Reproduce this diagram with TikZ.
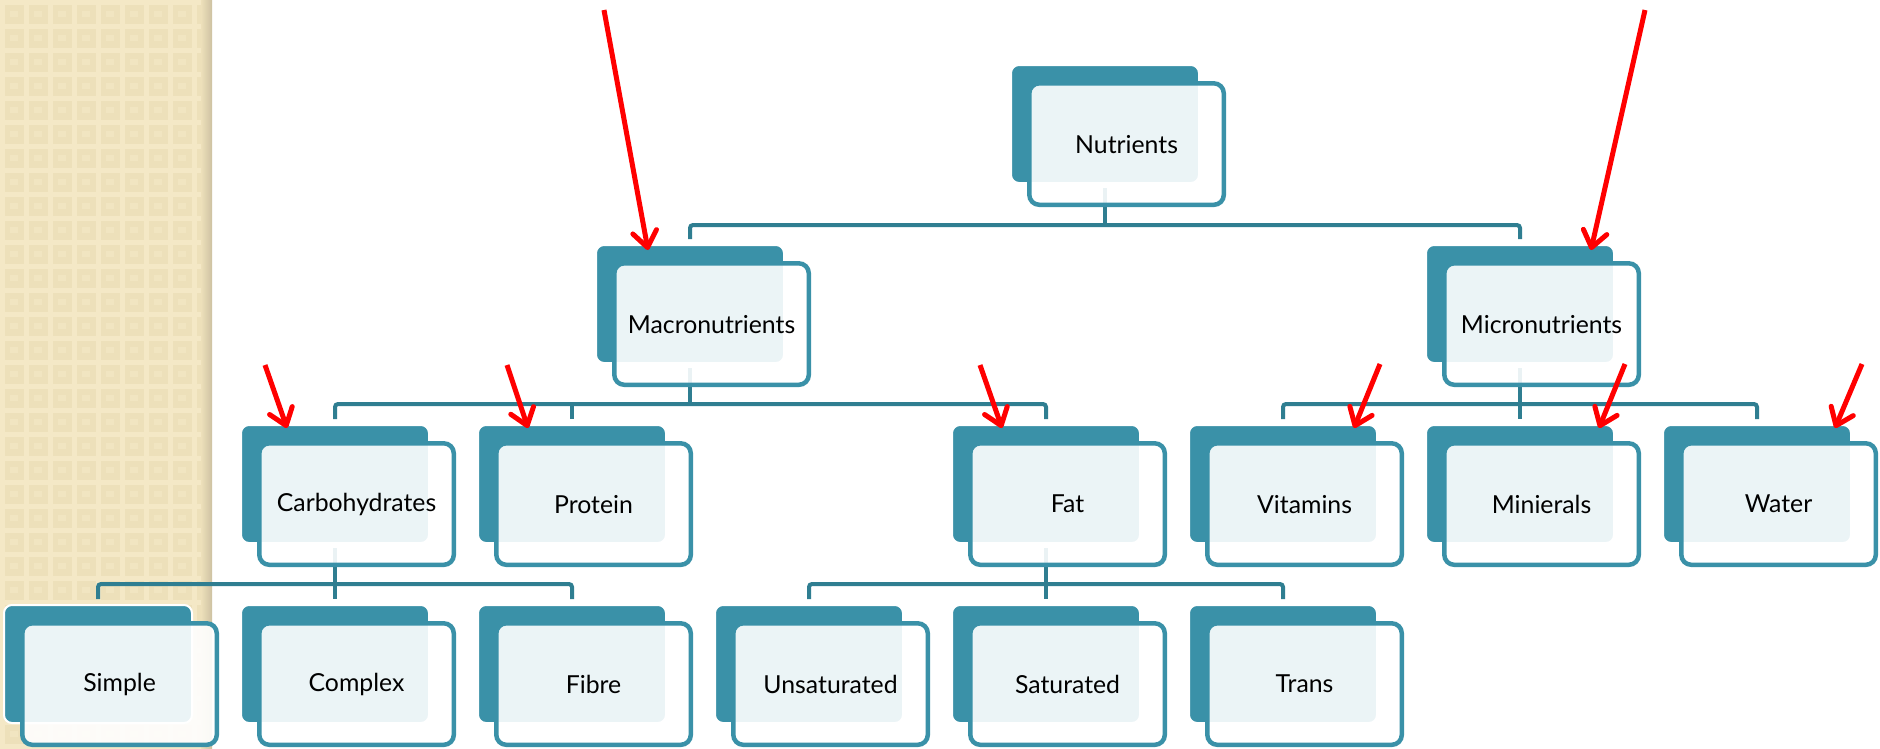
\documentclass[tikz,border=0pt]{standalone}
\usepackage{fontspec}
\setmainfont{Lato}
\usetikzlibrary{calc,arrows.meta}

\definecolor{smTeal}{RGB}{58,145,168}
\definecolor{smLine}{RGB}{47,126,145}
\definecolor{smBeige}{RGB}{237,224,186}
\definecolor{smBeigeLight}{RGB}{244,232,198}
\definecolor{smEdge}{RGB}{205,193,162}

\pgfdeclarelayer{paper}
\pgfdeclarelayer{lines}
\pgfsetlayers{paper,lines,main}

% one hierarchy box: solid back card plus translucent framed card with the label
\newcommand\smartbox[4]{%
  \node[backbox] (#1B) at (#2,#3) {};
  \node[frontbox] (#1) at ($(#2,#3)+(18.3,18.3)$) {#4};
}

\begin{document}
\begin{tikzpicture}[x=1pt,y=-1pt,
  backbox/.style={shape=rectangle, fill=smTeal, draw=white, line width=2pt,
    rounded corners=8pt, minimum width=188pt, minimum height=118pt,
    inner sep=0pt, outer sep=0pt, anchor=north west},
  frontbox/.style={shape=rectangle, fill=white, fill opacity=0.9, text opacity=1,
    draw=smTeal, line width=4.5pt, rounded corners=10pt,
    minimum width=194.5pt, minimum height=121.5pt, inner sep=0pt, outer sep=0pt,
    anchor=north west, font=\fontsize{24.8}{29}\selectfont},
  conn/.style={draw=smLine, line width=4pt, rounded corners=3pt},
  pointer/.style={draw=red, line width=5pt,
    -{Straight Barb[length=16pt,width=24pt,round]}},
]
\useasboundingbox (0,0) rectangle (1880,748);

% textured side strip
\begin{pgfonlayer}{paper}
  \fill[white] (0,0) rectangle (1880,748);
  \fill[smBeige] (0,0) rectangle (212,748);
  \foreach \i in {0,...,8} \fill[smBeigeLight] (\i*24,0) rectangle ++(5,748);
  \foreach \j in {0,...,31} \fill[smBeigeLight] (0,\j*24) rectangle ++(212,5);
  \foreach \i in {0,...,8} \foreach \j in {0,...,31}
    \fill[smBeigeLight!60!smBeige] (\i*24+10,\j*24+11) rectangle ++(8,6);
  \shade[left color=smBeige, right color=smEdge] (201,0) rectangle (212,748);
\end{pgfonlayer}

% boxes
\smartbox{nut}{1011}{65}{Nutrients}
\smartbox{mac}{596}{245}{Macronutrients}
\smartbox{mic}{1426}{245}{Micronutrients}
\smartbox{carb}{241}{425}{Carbohydrates}
\smartbox{prot}{478}{425}{Protein}
\smartbox{fat}{952}{425}{Fat}
\smartbox{vit}{1189}{425}{Vitamins}
\smartbox{min}{1426}{425}{Minierals}
\smartbox{wat}{1663}{425}{Water}
\smartbox{simp}{4}{605}{Simple}
\smartbox{comp}{241}{605}{Complex}
\smartbox{fib}{478}{605}{Fibre}
\smartbox{uns}{715}{605}{Unsaturated}
\smartbox{sat}{952}{605}{Saturated}
\smartbox{tra}{1189}{605}{Trans}

% tree connectors
\begin{pgfonlayer}{lines}
  \coordinate (barA) at ($(macB.north)+(0,-20)$);
  \draw[conn] ($(macB.north)+(0,-6)$) -- (macB.north |- barA) -- (micB.north |- barA) -- ($(micB.north)+(0,-6)$);
  \draw[conn] ($(nutB.south)+(0,5)$) -- (nutB.south |- barA);

  \coordinate (barB) at ($(carbB.north)+(0,-21)$);
  \draw[conn] ($(carbB.north)+(0,-6)$) -- (carbB.north |- barB) -- (fatB.north |- barB) -- ($(fatB.north)+(0,-6)$);
  \draw[conn] (protB.north |- barB) -- ($(protB.north)+(0,-6)$);
  \draw[conn] ($(macB.south)+(0,5)$) -- (macB.south |- barB);

  \draw[conn] ($(vitB.north)+(0,-6)$) -- (vitB.north |- barB) -- (watB.north |- barB) -- ($(watB.north)+(0,-6)$);
  \draw[conn] (minB.north |- barB) -- ($(minB.north)+(0,-6)$);
  \draw[conn] ($(micB.south)+(0,5)$) -- (micB.south |- barB);

  \coordinate (barC) at ($(simpB.north)+(0,-21)$);
  \draw[conn] ($(simpB.north)+(0,-6)$) -- (simpB.north |- barC) -- (fibB.north |- barC) -- ($(fibB.north)+(0,-6)$);
  \draw[conn] (compB.north |- barC) -- ($(compB.north)+(0,-6)$);
  \draw[conn] ($(carbB.south)+(0,5)$) -- (carbB.south |- barC);

  \draw[conn] ($(unsB.north)+(0,-6)$) -- (unsB.north |- barC) -- (traB.north |- barC) -- ($(traB.north)+(0,-6)$);
  \draw[conn] (satB.north |- barC) -- ($(satB.north)+(0,-6)$);
  \draw[conn] ($(fatB.south)+(0,5)$) -- (fatB.south |- barC);
\end{pgfonlayer}

% red pointers
\coordinate (p1s) at (604,10);   \coordinate (p1e) at (648,250);
\coordinate (p2s) at (1645,10);  \coordinate (p2e) at (1591,250);
\coordinate (p3s) at (265,365);  \coordinate (p3e) at (287,428);
\coordinate (p4s) at (507,365);  \coordinate (p4e) at (528,428);
\coordinate (p5s) at (980,365);  \coordinate (p5e) at (1002,428);
\coordinate (p6s) at (1380,364); \coordinate (p6e) at (1354,428);
\coordinate (p7s) at (1625,364); \coordinate (p7e) at (1599,428);
\coordinate (p8s) at (1862,364); \coordinate (p8e) at (1835,428);
\foreach \k in {1,...,8} \draw[pointer] (p\k s) -- (p\k e);

\end{tikzpicture}
\end{document}
